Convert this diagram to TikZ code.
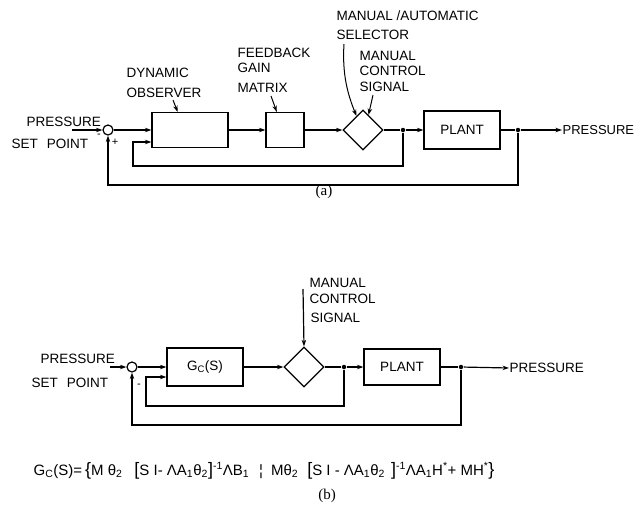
\documentclass[tikz,border=0pt]{standalone}
\usepackage{fontspec}
\setmainfont{Liberation Sans}
\newfontfamily\capfont{Liberation Serif}
\usetikzlibrary{shapes.geometric,arrows.meta,calc}
\newcommand{\bigf}[1]{{\fontsize{18}{18}\selectfont #1}}
\begin{document}
\begin{tikzpicture}[x=1pt,y=-1pt, line width=1.2pt,
  lbl/.style={anchor=base west, inner sep=0, font=\fontsize{13.5}{15}\selectfont},
  blk/.style={draw, rectangle, inner sep=0, font=\fontsize{13.5}{15}\selectfont},
  sel/.style={draw, diamond, inner sep=0, minimum width=40pt, minimum height=40pt},
  sumj/.style={draw, circle, inner sep=0, minimum size=10pt},
  arr/.style={-{Stealth[length=6.5pt,width=4.5pt]}},
  jdot/.style={circle, fill, inner sep=0, minimum size=4.5pt},
  sgn/.style={inner sep=0, font=\fontsize{11}{11}\selectfont},
  ptr/.style={arr, line width=1pt},
]
\useasboundingbox (0,0) rectangle (634,509);

% ---------------- (a) ----------------
\node[sumj] (sumA) at (108,130) {};
\node[blk, minimum width=76pt, minimum height=35pt] (obs) at (190,130) {};
\node[blk, minimum width=38pt, minimum height=35pt] (gain) at (285,130) {};
\node[sel] (selA) at (363,130) {};
\node[blk, minimum width=76pt, minimum height=38pt] (plantA) at (462,130) {PLANT};
\node[jdot] (jA1) at (403,130) {};
\node[jdot] (jA2) at (518,130) {};
\coordinate (inA) at (72,130);
\node[anchor=west, inner sep=0, font=\fontsize{13}{15}\selectfont] (outA) at (562,130) {PRESSURE};

\draw[arr] (inA) -- (sumA.west);
\draw[arr] (sumA.east) -- (obs.west);
\draw[arr] (obs.east) -- (gain.west);
\draw[arr] (gain.east) -- (selA.west);
\draw (selA.east) -- (jA1);
\draw[arr] (jA1) -- (plantA.west);
\draw (plantA.east) -- (jA2);
\draw[arr] (jA2) -- (outA.west);
\draw[arr] (jA1) -- (403,166) -- (133,166) -- (133,142) -- (obs.west |- 0,142);
\draw[arr] (jA2) -- (518,185) -| (sumA.south);

\node[sgn] (mA) at (99,136) {-};
\node[sgn] (pA) at (115,142) {+};

\node[lbl] (prA) at (26,126) {PRESSURE};
\node[lbl] (spA) at (11,148) {SET\hspace{9pt}POINT};
\node[lbl] (dyn1) at (126,77) {DYNAMIC};
\node[lbl] (dyn2) at (126,97) {OBSERVER};
\node[lbl] (fb1) at (237,57) {FEEDBACK};
\node[lbl] (fb2) at (237,72) {GAIN};
\node[lbl] (fb3) at (237,92) {MATRIX};
\node[lbl] (ma1) at (336,20) {MANUAL /AUTOMATIC};
\node[lbl] (ma2) at (336,39) {SELECTOR};
\node[lbl] (mc1) at (359,60) {MANUAL};
\node[lbl] (mc2) at (359,75) {CONTROL};
\node[lbl] (mc3) at (359,91) {SIGNAL};

\coordinate (dynP) at (173,100);
\coordinate (gainP) at (271,96);
\coordinate (selP) at (344,44);
\coordinate (manP) at (373,95);
\draw[ptr] (dynP) -- ($(obs.north west)!0.34!(obs.north east)$);
\draw[ptr] (gainP) -- ($(gain.north west)!0.29!(gain.north east)$);
\draw[ptr] (selP) .. controls (342,75) and (348,95) .. (selA.115);
\draw[ptr] (manP) -- (selA.70);

\node[font=\capfont\fontsize{15}{17}\selectfont, inner sep=0] (capA) at (324,192) {(a)};

% ---------------- (b) ----------------
\node[sumj] (sumB) at (132,367) {};
\node[blk, minimum width=76pt, minimum height=38pt] (gc) at (205,367) {G\textsubscript{C}(S)};
\node[sel] (selB) at (304,367) {};
\node[blk, minimum width=76pt, minimum height=36pt] (plantB) at (402,367) {PLANT};
\node[jdot] (jB1) at (344,367) {};
\node[jdot] (jB2) at (461,367) {};
\coordinate (inB) at (110,367);
\node[anchor=west, inner sep=0, font=\fontsize{13.5}{15}\selectfont] (outB) at (509,368) {PRESSURE};

\draw[arr] (inB) -- (sumB.west);
\draw[arr] (sumB.east) -- (gc.west);
\draw[arr] (gc.east) -- (selB.west);
\draw (selB.east) -- (jB1);
\draw[arr] (jB1) -- (plantB.west);
\draw (plantB.east) -- (jB2);
\draw[arr] (jB2) -- (outB.west);
\draw[arr] (jB1) -- (344,406) -- (146,406) -- (146,377) -- (gc.west |- 0,377);
\draw[arr] (jB2) -- (461,425) -| (sumB.south);

\node[sgn] (mB) at (139,386) {-};

\node[lbl] (prB) at (40,363) {PRESSURE};
\node[lbl] (spB) at (31,387) {SET\hspace{9pt}POINT};
\node[lbl] (mcb1) at (309,287) {MANUAL};
\node[lbl] (mcb2) at (309,303) {CONTROL};
\node[lbl] (mcb3) at (310,322) {SIGNAL};
\coordinate (manB) at (303,289);
\draw[arr] (manB) -- (selB.north);

\node[anchor=base west, inner sep=0, font=\fontsize{15}{17}\selectfont] (form) at (33,475) {G\textsubscript{C}(S)=\hspace{3pt}\bigf{\{}M θ\textsubscript{2}\hspace{12pt}\bigf{[}S I- ΛA\textsubscript{1}θ\textsubscript{2}\bigf{]}\textsuperscript{-1}ΛB\textsubscript{1}\hspace{10pt}¦\hspace{8pt}Mθ\textsubscript{2}\hspace{9pt}\bigf{[}S I - ΛA\textsubscript{1}θ\textsubscript{2}\hspace{6pt}\bigf{]}\textsuperscript{-1}ΛA\textsubscript{1}H\textsuperscript{*}+ MH\textsuperscript{*}\bigf{\}}};

\node[font=\capfont\fontsize{15}{17}\selectfont, inner sep=0] (capB) at (327,496) {(b)};
\end{tikzpicture}
\end{document}
